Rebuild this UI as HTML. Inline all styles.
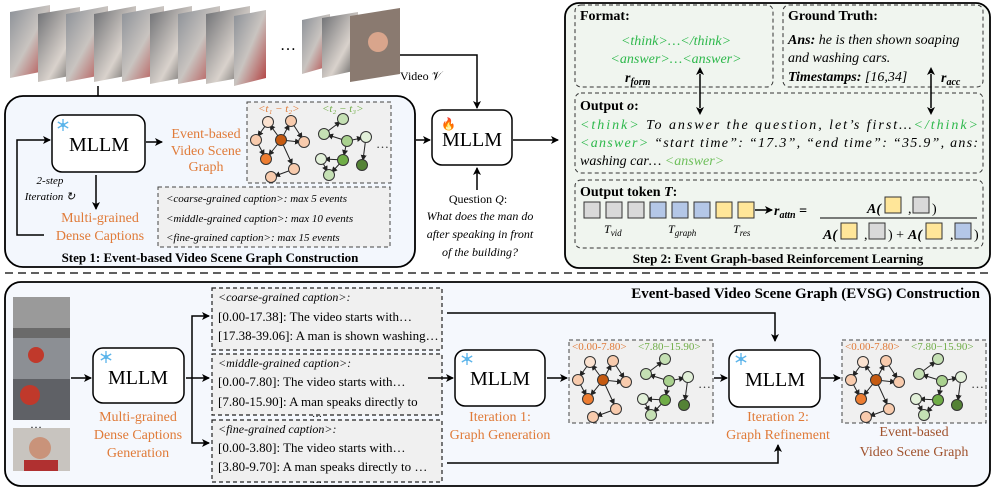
<!DOCTYPE html>
<html><head><meta charset="utf-8"><style>
html,body{margin:0;padding:0;background:#fff}
svg{display:block;font-family:"Liberation Serif",serif}
</style></head><body>
<svg width="996" height="489" viewBox="0 0 996 489" xmlns="http://www.w3.org/2000/svg">
<defs>
<marker id="ar" markerWidth="8" markerHeight="8" refX="7" refY="4" orient="auto" markerUnits="userSpaceOnUse"><path d="M0,0 L8,4 L0,8 L2,4 z" fill="#000"/></marker>
<marker id="ars" markerWidth="6" markerHeight="6" refX="5" refY="3" orient="auto" markerUnits="userSpaceOnUse"><path d="M0,0 L6,3 L0,6 z" fill="#222"/></marker>
<marker id="arb" markerWidth="8" markerHeight="8" refX="1" refY="4" orient="auto-start-reverse" markerUnits="userSpaceOnUse"><path d="M0,0 L8,4 L0,8 L2,4 z" fill="#000"/></marker>
<g id="graph">
 <g stroke="#222" stroke-width="1" marker-end="url(#ars)">
  <line x1="34" y1="38" x2="23" y2="23"/><line x1="34" y1="38" x2="42" y2="23"/><line x1="34" y1="38" x2="53" y2="40"/>
  <line x1="34" y1="38" x2="22" y2="53"/><line x1="34" y1="38" x2="45" y2="62"/><line x1="44" y1="19" x2="55" y2="36"/>
  <line x1="21" y1="20" x2="11" y2="34"/><line x1="9" y1="38" x2="17" y2="53"/><line x1="47" y1="67" x2="28" y2="74"/>
  <line x1="100" y1="39" x2="81" y2="33"/><line x1="77" y1="32" x2="93" y2="20"/><line x1="100" y1="39" x2="115" y2="36"/>
  <line x1="100" y1="39" x2="97" y2="53"/><line x1="119" y1="35" x2="116" y2="58"/><line x1="96" y1="58" x2="85" y2="70"/>
  <line x1="96" y1="58" x2="78" y2="57"/><line x1="74" y1="57" x2="80" y2="69"/>
 </g>
 <g stroke="#333" stroke-width="1">
  <circle cx="21" cy="20" r="5.5" fill="#fbe2d0"/><circle cx="44" cy="19" r="5.5" fill="#f8cbad"/>
  <circle cx="9" cy="38" r="5.5" fill="#f8cbad"/><circle cx="34" cy="38" r="5.5" fill="#c55a11"/>
  <circle cx="57" cy="40" r="5.5" fill="#f8cbad"/><circle cx="19" cy="57" r="5.5" fill="#ed7d31"/>
  <circle cx="47" cy="67" r="5.5" fill="#f8cbad"/><circle cx="24" cy="75" r="5.5" fill="#f8cbad"/>
  <circle cx="96" cy="17" r="5.5" fill="#c5e0b4"/><circle cx="77" cy="32" r="5.5" fill="#c5e0b4"/>
  <circle cx="100" cy="39" r="5.5" fill="#a9d18e"/><circle cx="119" cy="35" r="5.5" fill="#e2f0d9"/>
  <circle cx="74" cy="57" r="5.5" fill="#e2f0d9"/><circle cx="96" cy="58" r="5.5" fill="#70ad47"/>
  <circle cx="115" cy="63" r="5.5" fill="#548235"/><circle cx="82" cy="73" r="5.5" fill="#c5e0b4"/>
 </g>
 <text x="129" y="46" font-size="13" fill="#333">…</text>
</g>
<g id="snow" stroke="#5bb4ea" stroke-width="1.3" fill="none">
 <line x1="0" y1="-6" x2="0" y2="6"/><line x1="-5.2" y1="-3" x2="5.2" y2="3"/><line x1="-5.2" y1="3" x2="5.2" y2="-3"/>
 <circle r="1.5"/>
</g>
<linearGradient id="fr" x1="0" y1="0" x2="1" y2="1"><stop offset="0" stop-color="#8a8f96"/><stop offset="0.5" stop-color="#c9c4c0"/><stop offset="1" stop-color="#b23b3b"/></linearGradient>
<linearGradient id="fr2" x1="0" y1="0" x2="1" y2="1"><stop offset="0" stop-color="#6c6e72"/><stop offset="0.6" stop-color="#d9d2cc"/><stop offset="1" stop-color="#4a4a4a"/></linearGradient>
</defs>

<!-- top video frames -->
<g>
 <polygon points="10,12 50,5 50,70 10,78" fill="url(#fr)"/>
 <polygon points="38,14 80,7 80,74 38,82" fill="url(#fr2)"/>
 <polygon points="66,14 108,6 108,74 66,82" fill="url(#fr)"/>
 <polygon points="94,14 136,6 136,74 94,82" fill="url(#fr2)"/>
 <polygon points="122,14 164,6 164,74 122,82" fill="url(#fr)"/>
 <polygon points="150,14 192,6 192,76 150,84" fill="url(#fr2)"/>
 <polygon points="178,14 220,6 220,76 178,84" fill="url(#fr)"/>
 <polygon points="206,14 250,6 250,76 206,84" fill="url(#fr2)"/>
 <polygon points="234,16 266,10 266,78 234,86" fill="url(#fr)"/>
 <text x="280" y="50" font-size="16">…</text>
 <polygon points="302,20 330,14 330,66 302,74" fill="url(#fr)"/>
 <polygon points="322,18 358,12 358,70 322,78" fill="url(#fr2)"/>
 <polygon points="350,16 400,8 400,74 350,82" fill="#8a7a70"/>
 <circle cx="378" cy="42" r="10" fill="#d9a58c"/>
</g>
<line x1="98" y1="86" x2="98" y2="113" stroke="#000" stroke-width="1.5" marker-end="url(#ar)"/>

<!-- Step1 box -->
<rect x="5" y="96" width="410" height="171" rx="18" fill="#f3f7fd" stroke="#000" stroke-width="1.8"/>
<rect x="52" y="115" width="93" height="57" rx="10" fill="#fff" stroke="#000" stroke-width="1.5"/>
<use href="#snow" x="63" y="125"/>
<text x="99" y="151" font-size="20" text-anchor="middle">MLLM</text>
<line x1="146" y1="142" x2="162" y2="142" stroke="#000" stroke-width="1.5" marker-end="url(#ar)"/>
<g font-size="14" fill="#e07b39" text-anchor="middle">
 <text x="206" y="138">Event-based</text><text x="206" y="155">Video Scene</text><text x="206" y="171">Graph</text>
 <text x="100" y="222">Multi-grained</text><text x="100" y="240">Dense Captions</text>
</g>
<line x1="96" y1="175" x2="96" y2="209" stroke="#000" stroke-width="1.5" marker-end="url(#ar)"/>
<text x="50" y="184" font-size="11" font-style="italic" text-anchor="middle">2-step</text>
<text x="50" y="200" font-size="11" font-style="italic" text-anchor="middle">Iteration ↻</text>
<polyline points="44,235 17,235 17,140 50,140" fill="none" stroke="#000" stroke-width="1.5" marker-end="url(#ar)"/>
<rect x="247" y="102" width="144" height="81" fill="#f0f0f0" stroke="#444" stroke-dasharray="4,3"/>
<use href="#graph" x="247" y="102"/>
<text x="258" y="112" font-size="11" fill="#e07b39" font-style="italic">&lt;t₁ − t₂&gt;</text>
<text x="322" y="112" font-size="11" fill="#70ad47" font-style="italic">&lt;t₂ − t₃&gt;</text>
<rect x="158" y="187" width="232" height="60" fill="#f0f0f0" stroke="#444" stroke-dasharray="4,3"/>
<g font-size="11" font-style="italic">
 <text x="166" y="202">&lt;coarse-grained caption&gt;: max 5 events</text>
 <text x="166" y="222">&lt;middle-grained caption&gt;: max 10 events</text>
 <text x="166" y="241">&lt;fine-grained caption&gt;: max 15 events</text>
</g>
<text x="210" y="262" font-size="13" font-weight="bold" text-anchor="middle">Step 1: Event-based Video Scene Graph Construction</text>

<!-- center MLLM -->
<text x="400" y="80" font-size="12">Video 𝒱</text>
<polyline points="400,55 477,55 477,108" fill="none" stroke="#000" stroke-width="1.5" marker-end="url(#ar)"/>
<line x1="416" y1="140" x2="430" y2="140" stroke="#000" stroke-width="1.5" marker-end="url(#ar)"/>
<rect x="432" y="110" width="80" height="55" rx="10" fill="#fff" stroke="#000" stroke-width="1.5"/>
<text x="441" y="128" font-size="12" fill="#e8542a">🔥</text>
<text x="472" y="146" font-size="20" text-anchor="middle">MLLM</text>
<line x1="477" y1="190" x2="477" y2="168" stroke="#000" stroke-width="1.5" marker-end="url(#ar)"/>
<line x1="513" y1="140" x2="558" y2="140" stroke="#000" stroke-width="1.5" marker-end="url(#ar)"/>
<g font-size="12" text-anchor="middle" font-style="italic">
 <text x="478" y="203" font-style="normal">Question <tspan font-style="italic">Q</tspan>:</text>
 <text x="480" y="220">What does the man do</text>
 <text x="480" y="238">after speaking in front</text>
 <text x="480" y="256">of the building?</text>
</g>

<!-- Step2 box -->
<rect x="565" y="3" width="425" height="265" rx="14" fill="#f0f5ef" stroke="#000" stroke-width="1.8"/>
<rect x="575" y="5" width="198" height="82" rx="6" fill="none" stroke="#333" stroke-dasharray="4,3"/>
<rect x="783" y="5" width="200" height="82" rx="6" fill="none" stroke="#333" stroke-dasharray="4,3"/>
<rect x="575" y="93" width="408" height="80" rx="6" fill="none" stroke="#333" stroke-dasharray="4,3"/>
<rect x="575" y="180" width="408" height="68" rx="6" fill="none" stroke="#333" stroke-dasharray="4,3"/>
<text x="580" y="20" font-size="14" font-weight="bold">Format:</text>
<g font-size="14" font-style="italic" fill="#2db84b" text-anchor="middle">
 <text x="676" y="45">&lt;think&gt;…&lt;/think&gt;</text><text x="676" y="63">&lt;answer&gt;…&lt;answer&gt;</text>
</g>
<text x="625" y="82" font-size="14" font-weight="bold" font-style="italic">r<tspan font-size="10" dy="3">form</tspan></text>
<line x1="700" y1="74" x2="700" y2="108" stroke="#000" stroke-width="1.5" marker-end="url(#arb)" marker-start="url(#arb)"/>
<text x="788" y="20" font-size="14" font-weight="bold">Ground Truth:</text>
<g font-size="14" font-style="italic">
 <text x="788" y="44"><tspan font-weight="bold">Ans:</tspan> he is then shown soaping</text>
 <text x="788" y="62">and washing cars.</text>
 <text x="788" y="81"><tspan font-weight="bold">Timestamps:</tspan> [16,34]</text>
</g>
<line x1="931" y1="74" x2="931" y2="108" stroke="#000" stroke-width="1.5" marker-end="url(#arb)" marker-start="url(#arb)"/>
<text x="941" y="82" font-size="14" font-weight="bold" font-style="italic">r<tspan font-size="10" dy="3">acc</tspan></text>
<text x="580" y="110" font-size="14" font-weight="bold">Output <tspan font-style="italic">o</tspan>:</text>
<g font-size="14" font-style="italic">
 <text x="580" y="129" textLength="398" lengthAdjust="spacing"><tspan fill="#2db84b">&lt;think&gt;</tspan> To answer the question, let’s first…<tspan fill="#2db84b">&lt;/think&gt;</tspan></text>
 <text x="580" y="147" textLength="398" lengthAdjust="spacing"><tspan fill="#2db84b">&lt;answer&gt;</tspan> “start time”: “17.3”, “end time”: “35.9”, ans:</text>
 <text x="580" y="165">washing car… <tspan fill="#6dbf5a">&lt;answer&gt;</tspan></text>
</g>
<text x="580" y="196" font-size="14" font-weight="bold">Output token <tspan font-style="italic">T</tspan>:</text>
<g stroke="#333" stroke-width="1">
 <rect x="584" y="202" width="16" height="16" fill="#d9d9d9"/><rect x="606" y="202" width="16" height="16" fill="#d9d9d9"/><rect x="628" y="202" width="16" height="16" fill="#d9d9d9"/>
 <rect x="650" y="202" width="16" height="16" fill="#b4c7e7"/><rect x="672" y="202" width="16" height="16" fill="#b4c7e7"/><rect x="694" y="202" width="16" height="16" fill="#b4c7e7"/>
 <rect x="716" y="202" width="16" height="16" fill="#ffe699"/><rect x="738" y="202" width="16" height="16" fill="#ffe699"/>
</g>
<line x1="755" y1="210" x2="772" y2="210" stroke="#000" stroke-width="1.5" marker-end="url(#ar)"/>
<g font-size="12" font-style="italic">
 <text x="604" y="233">T<tspan font-size="9" dy="3">vid</tspan></text>
 <text x="668" y="233">T<tspan font-size="9" dy="3">graph</tspan></text>
 <text x="733" y="233">T<tspan font-size="9" dy="3">res</tspan></text>
</g>
<text x="774" y="215" font-size="14" font-weight="bold" font-style="italic">r<tspan font-size="10" dy="3">attn</tspan><tspan dy="-3" font-style="normal"> =</tspan></text>
<g font-size="14" font-weight="bold" font-style="italic">
 <text x="867" y="213">A(</text><text x="908" y="213" font-weight="normal" font-style="normal">,</text><text x="932" y="213" font-weight="normal" font-style="normal">)</text>
 <text x="823" y="239">A(</text><text x="864" y="239" font-weight="normal" font-style="normal">,</text><text x="888" y="239" font-weight="normal" font-style="normal">) +</text><text x="908" y="239">A(</text><text x="950" y="239" font-weight="normal" font-style="normal">,</text><text x="974" y="239" font-weight="normal" font-style="normal">)</text>
</g>
<line x1="820" y1="218" x2="977" y2="218" stroke="#000" stroke-width="1"/>
<g stroke="#333" stroke-width="1">
 <rect x="885" y="197" width="16" height="16" fill="#ffe699"/><rect x="913" y="197" width="16" height="16" fill="#d9d9d9"/>
 <rect x="841" y="223" width="16" height="16" fill="#ffe699"/><rect x="869" y="223" width="16" height="16" fill="#d9d9d9"/>
 <rect x="926" y="223" width="16" height="16" fill="#ffe699"/><rect x="955" y="223" width="16" height="16" fill="#b4c7e7"/>
</g>
<text x="778" y="263" font-size="13" font-weight="bold" text-anchor="middle">Step 2: Event Graph-based Reinforcement Learning</text>

<line x1="5" y1="273" x2="990" y2="273" stroke="#000" stroke-width="1.3" stroke-dasharray="8,5"/>

<!-- Bottom box -->
<rect x="5" y="282" width="985" height="204" rx="16" fill="#f5f8fd" stroke="#000" stroke-width="1.8"/>
<text x="980" y="298" font-size="15" font-weight="bold" text-anchor="end">Event-based Video Scene Graph (EVSG) Construction</text>
<rect x="13" y="297" width="57" height="41" fill="#9a9a9a"/><rect x="13" y="328" width="57" height="10" fill="#6a6a6a"/>
<rect x="13" y="338" width="57" height="41" fill="#8c8f94"/><circle cx="36" cy="355" r="8" fill="#c0392b"/>
<rect x="13" y="379" width="57" height="41" fill="#5f6166"/><circle cx="30" cy="395" r="10" fill="#c0392b"/>
<text x="36" y="428" font-size="12" text-anchor="middle">…</text>
<rect x="13" y="428" width="57" height="43" fill="#c8c4bf"/><circle cx="40" cy="448" r="11" fill="#c9937a"/><rect x="24" y="460" width="34" height="11" fill="#b03030"/>
<line x1="71" y1="378" x2="91" y2="378" stroke="#000" stroke-width="1.5" marker-end="url(#ar)"/>
<rect x="93" y="348" width="91" height="55" rx="10" fill="#fff" stroke="#000" stroke-width="1.5"/>
<use href="#snow" x="106" y="357"/>
<text x="138" y="384" font-size="20" text-anchor="middle">MLLM</text>
<g font-size="14" fill="#e07b39" text-anchor="middle">
 <text x="138" y="421">Multi-grained</text><text x="138" y="439">Dense Captions</text><text x="138" y="457">Generation</text>
</g>
<line x1="186" y1="378" x2="209" y2="378" stroke="#000" stroke-width="1.5" marker-end="url(#ar)"/>
<polyline points="192,378 192,316 209,316" fill="none" stroke="#000" stroke-width="1.5" marker-end="url(#ar)"/>
<polyline points="192,378 192,443 209,443" fill="none" stroke="#000" stroke-width="1.5" marker-end="url(#ar)"/>
<g fill="#f0f0f0" stroke="#222" stroke-dasharray="4,3" stroke-width="1.2">
 <rect x="212" y="288" width="230" height="62"/><rect x="212" y="354" width="230" height="61"/><rect x="212" y="420" width="230" height="62"/>
</g>
<g font-size="13">
 <text x="218" y="301" font-size="12" font-style="italic">&lt;coarse-grained caption&gt;:</text>
 <text x="218" y="321">[0.00-17.38]: The video starts with…</text>
 <text x="218" y="340">[17.38-39.06]: A man is shown washing…</text>
 <text x="312" y="351" font-size="10">…</text>
 <text x="218" y="367" font-size="12" font-style="italic">&lt;middle-grained caption&gt;:</text>
 <text x="218" y="386">[0.00-7.80]: The video starts with…</text>
 <text x="218" y="406">[7.80-15.90]: A man speaks directly to</text>
 <text x="312" y="417" font-size="10">…</text>
 <text x="218" y="433" font-size="12" font-style="italic">&lt;fine-grained caption&gt;:</text>
 <text x="218" y="452">[0.00-3.80]: The video starts with…</text>
 <text x="218" y="471">[3.80-9.70]: A man speaks directly to …</text>
 <text x="312" y="483" font-size="10">…</text>
</g>
<polyline points="447,313 775,313 775,341" fill="none" stroke="#000" stroke-width="1.5" marker-end="url(#ar)"/>
<polyline points="447,463 778,463 778,445" fill="none" stroke="#000" stroke-width="1.5" marker-end="url(#ar)"/>
<line x1="428" y1="378" x2="453" y2="378" stroke="#000" stroke-width="1.5" marker-end="url(#ar)"/>
<rect x="455" y="350" width="90" height="56" rx="10" fill="#fff" stroke="#000" stroke-width="1.5"/>
<use href="#snow" x="467" y="359"/>
<text x="500" y="385" font-size="20" text-anchor="middle">MLLM</text>
<g font-size="14" fill="#e07b39" text-anchor="middle">
 <text x="500" y="421">Iteration 1:</text><text x="500" y="439">Graph Generation</text>
 <text x="778" y="421">Iteration 2:</text><text x="778" y="439">Graph Refinement</text>
</g>
<line x1="547" y1="378" x2="567" y2="378" stroke="#000" stroke-width="1.5" marker-end="url(#ar)"/>
<rect x="569" y="340" width="144" height="83" fill="#f0f0f0" stroke="#444" stroke-dasharray="4,3"/>
<use href="#graph" x="569" y="342"/>
<text x="572" y="350" font-size="11" fill="#e07b39">&lt;0.00-7.80&gt;</text>
<text x="638" y="350" font-size="11" fill="#70ad47">&lt;7.80−15.90&gt;</text>
<line x1="714" y1="378" x2="727" y2="378" stroke="#000" stroke-width="1.5" marker-end="url(#ar)"/>
<rect x="729" y="350" width="91" height="57" rx="10" fill="#fff" stroke="#000" stroke-width="1.5"/>
<use href="#snow" x="741" y="359"/>
<text x="775" y="386" font-size="20" text-anchor="middle">MLLM</text>
<line x1="821" y1="378" x2="840" y2="378" stroke="#000" stroke-width="1.5" marker-end="url(#ar)"/>
<rect x="842" y="340" width="144" height="83" fill="#f0f0f0" stroke="#444" stroke-dasharray="4,3"/>
<use href="#graph" x="842" y="342"/>
<text x="845" y="350" font-size="11" fill="#e07b39">&lt;0.00-7.80&gt;</text>
<text x="911" y="350" font-size="11" fill="#70ad47">&lt;7.80−15.90&gt;</text>
<g font-size="14" fill="#a0522d" text-anchor="middle">
 <text x="914" y="436">Event-based</text><text x="914" y="456">Video Scene Graph</text>
</g>
</svg>
</body></html>
